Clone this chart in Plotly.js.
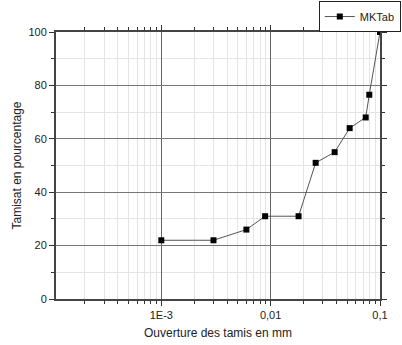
<!DOCTYPE html>
<html>
<head>
<meta charset="utf-8">
<script src="https://cdn.plot.ly/plotly-3.0.1.min.js"></script>
<style>html,body{margin:0;padding:0;background:#fff;}#chart{width:402px;height:345px;}</style>
</head>
<body>
<div id="chart"></div>
<script>
var seriesName = "MKTab";
var ouverture = [0.001, 0.003, 0.006, 0.0089, 0.018, 0.0258, 0.0385, 0.0528, 0.074, 0.0798, 0.1];
var tamisat = [22, 22, 26, 31, 31, 51, 55, 64, 68, 76.5, 100];
var xTickVals = [0.001, 0.01, 0.1];
var xTickText = ["1E-3", "0,01", "0,1"];
var yTickVals = [0, 20, 40, 60, 80, 100];

var xMinor = [];
[0.0001, 0.001, 0.01].forEach(function(d){ for (var k=2;k<=9;k++) xMinor.push(+(d*k).toPrecision(3)); });

var trace = {
  x: ouverture, y: tamisat, name: seriesName,
  type: 'scatter', mode: 'lines+markers',
  line: {color: '#555', width: 1},
  marker: {symbol: 'square', size: 6, color: '#000'}
};

var layout = {
  width: 402, height: 345,
  margin: {l: 56, r: 22, t: 32, b: 46, autoexpand: false},
  paper_bgcolor: '#fff', plot_bgcolor: '#fff',
  font: {family: 'Liberation Sans, Arial, sans-serif', color: '#222', size: 11},
  showlegend: true,
  legend: {xref: 'container', yref: 'container', x: 0.997, xanchor: 'right', y: 0.997, yanchor: 'top',
           bordercolor: '#222', borderwidth: 1, bgcolor: '#fff', font: {size: 11},
           tracegroupgap: 0, entrywidth: 50},
  xaxis: {
    type: 'log', range: [-3.963, -1.0],
    tickmode: 'array', tickvals: xTickVals, ticktext: xTickText,
    ticks: 'outside', ticklen: 5, tickcolor: '#333', tickwidth: 1,
    showline: true, linecolor: '#444', linewidth: 2, mirror: 'ticks',
    showgrid: true, gridcolor: '#666', gridwidth: 1,
    zeroline: false, automargin: false,
    minor: {tickmode: 'array', tickvals: xMinor, ticks: 'outside', ticklen: 3, tickcolor: '#333',
            showgrid: true, gridcolor: '#e4e4e4', gridwidth: 1},
    title: {text: 'Ouverture des tamis en mm', font: {size: 12}, standoff: 8}
  },
  yaxis: {
    range: [0, 100], tickmode: 'array', tickvals: yTickVals,
    ticks: 'outside', ticklen: 5, tickcolor: '#333', tickwidth: 1,
    showline: true, linecolor: '#444', linewidth: 2, mirror: 'ticks',
    showgrid: true, gridcolor: '#777', gridwidth: 1,
    zeroline: false, automargin: false,
    minor: {dtick: 10, ticks: 'outside', ticklen: 3, tickcolor: '#333',
            showgrid: true, gridcolor: '#e4e4e4', gridwidth: 1},
    title: {text: 'Tamisat en pourcentage', font: {size: 12}, standoff: 4}
  }
};

Plotly.newPlot('chart', [trace], layout, {displayModeBar: false, staticPlot: true});
</script>
</body>
</html>
